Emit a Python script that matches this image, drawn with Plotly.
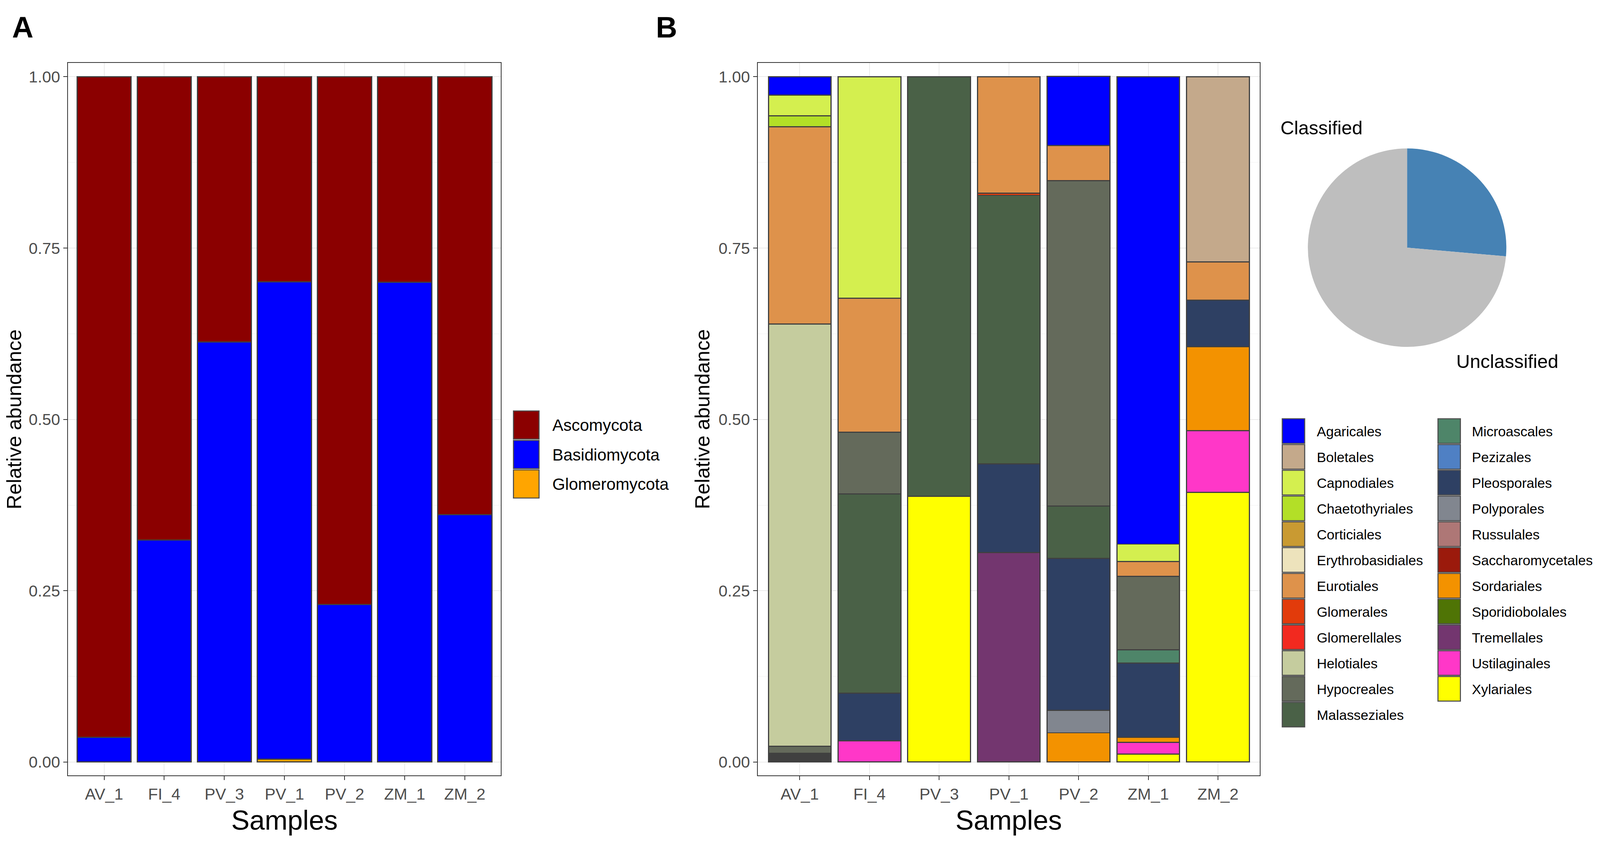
import plotly.graph_objects as go

# Reference picture size; the page is laid out in fractions of it and fills the window
W, H = 4562, 2153
S = 1.113            # picture px per CSS px (observed)
VW, VH = 4099, 2169  # approx. CSS viewport
BODY = 8             # default body margin (CSS px)
FONT = "Liberation Sans, Arial, Helvetica, sans-serif"

# ---------------- data ----------------
samples = ["AV_1", "FI_4", "PV_3", "PV_1", "PV_2", "ZM_1", "ZM_2"]

# Panel A: phylum level relative abundance
phyla = ["Ascomycota", "Basidiomycota", "Glomeromycota"]
phylum_colors = ["#8B0000", "#0000FF", "#FFA500"]
ascomycota = [0.964, 0.676, 0.387, 0.299, 0.770, 0.300, 0.639]
basidiomycota = [0.036, 0.324, 0.613, 0.697, 0.230, 0.700, 0.361]
glomeromycota = [0.0, 0.0, 0.0, 0.004, 0.0, 0.0, 0.0]

# Panel B: order level relative abundance
orders = ["Agaricales", "Boletales", "Capnodiales", "Chaetothyriales", "Corticiales",
          "Erythrobasidiales", "Eurotiales", "Glomerales", "Glomerellales", "Helotiales",
          "Hypocreales", "Malasseziales", "Microascales", "Pezizales", "Pleosporales",
          "Polyporales", "Russulales", "Saccharomycetales", "Sordariales",
          "Sporidiobolales", "Tremellales", "Ustilaginales", "Xylariales"]
order_colors = ["#0000FF", "#C4A98B", "#D4EF4F", "#B3DF27", "#C99A32",
                "#EDE3BC", "#DE924B", "#E23B0B", "#F2291F", "#C5CC9E",
                "#646A5B", "#4A6147", "#4E8569", "#4F80C4", "#2E4063",
                "#81868F", "#AE7776", "#9B1A0C", "#F39200",
                "#4F7405", "#73366F", "#FF37C8", "#FFFF00"]

agaricales        = [0.027, 0.0, 0.0, 0.0, 0.101, 0.682, 0.0]
boletales         = [0.0, 0.0, 0.0, 0.0, 0.0, 0.0, 0.270]
capnodiales       = [0.030, 0.323, 0.0, 0.0, 0.0, 0.0255, 0.0]
chaetothyriales   = [0.016, 0.0, 0.0, 0.0, 0.0, 0.0, 0.0]
corticiales       = [0.0, 0.0, 0.0, 0.0, 0.0, 0.0, 0.0]
erythrobasidiales = [0.0, 0.0, 0.0, 0.0, 0.0, 0.0, 0.0]
eurotiales        = [0.288, 0.1955, 0.0, 0.170, 0.051, 0.0215, 0.056]
glomerales        = [0.0, 0.0, 0.0, 0.003, 0.0, 0.0, 0.0]
glomerellales     = [0.0, 0.0, 0.0, 0.0, 0.0, 0.0, 0.0]
helotiales        = [0.616, 0.0, 0.0, 0.0, 0.0, 0.0, 0.0]
hypocreales       = [0.010, 0.090, 0.0, 0.0, 0.475, 0.107, 0.0]
malasseziales     = [0.0, 0.2905, 0.612, 0.392, 0.0766, 0.0, 0.0]
microascales      = [0.0, 0.0, 0.0, 0.0, 0.0, 0.0194, 0.0]
pezizales         = [0.0, 0.0, 0.0, 0.0, 0.0, 0.0, 0.0]
pleosporales      = [0.0, 0.0698, 0.0, 0.129, 0.2215, 0.1087, 0.068]
polyporales       = [0.0, 0.0, 0.0, 0.0, 0.0328, 0.0, 0.0]
russulales        = [0.0, 0.0, 0.0, 0.0, 0.0, 0.0, 0.0]
saccharomycetales = [0.0, 0.0, 0.0, 0.0, 0.0, 0.0, 0.0]
sordariales       = [0.0, 0.0, 0.0, 0.0, 0.0427, 0.0069, 0.1221]
sporidiobolales   = [0.0, 0.0, 0.0, 0.0, 0.0, 0.0, 0.0]
tremellales       = [0.0, 0.0, 0.0, 0.306, 0.0, 0.0, 0.0]
ustilaginales     = [0.0, 0.031, 0.0, 0.0, 0.0, 0.0176, 0.0905]
xylariales        = [0.0, 0.0, 0.388, 0.0, 0.0, 0.0114, 0.3933]
unassigned        = [0.013, 0.0, 0.0, 0.0, 0.0, 0.0, 0.0]
unassigned_color = "#404040"

order_values = [agaricales, boletales, capnodiales, chaetothyriales, corticiales,
                erythrobasidiales, eurotiales, glomerales, glomerellales, helotiales,
                hypocreales, malasseziales, microascales, pezizales, pleosporales,
                polyporales, russulales, saccharomycetales, sordariales,
                sporidiobolales, tremellales, ustilaginales, xylariales]

# Pie: share of classified reads
pie_labels = ["Classified", "Unclassified"]
pie_values = [0.264, 0.736]
pie_colors = ["#4682B4", "#BEBEBE"]

y_ticks = [0.0, 0.25, 0.5, 0.75, 1.0]

# ---------------- helpers (layout only) ----------------
def fx(px):
    return (px / W * VW - BODY) / (VW - 2 * BODY)

def fy(py):
    return 1 - (py / H * VH - BODY) / (VH - 2 * BODY)

def sz(v):
    return v / S

OUTLINE = "#404040"
BAR_LINE = sz(3.3)

fig = go.Figure()

# Panel A (stack: first trace at bottom, so reverse legend order)
for name, vals, col in reversed(list(zip(phyla, [ascomycota, basidiomycota, glomeromycota], phylum_colors))):
    fig.add_trace(go.Bar(x=samples, y=vals, name=name, marker=dict(color=col, line=dict(color=OUTLINE, width=BAR_LINE)),
                         width=0.9, showlegend=False, xaxis="x", yaxis="y"))

# Panel B
fig.add_trace(go.Bar(x=samples, y=unassigned, name="NA", marker=dict(color=unassigned_color, line=dict(color=OUTLINE, width=BAR_LINE)),
                     width=0.9, showlegend=False, xaxis="x2", yaxis="y2"))
for name, vals, col in reversed(list(zip(orders, order_values, order_colors))):
    fig.add_trace(go.Bar(x=samples, y=vals, name=name, marker=dict(color=col, line=dict(color=OUTLINE, width=BAR_LINE)),
                         width=0.9, showlegend=False, xaxis="x2", yaxis="y2"))

# Pie
cx, cy, r = 4012, 634, 283
fig.add_trace(go.Pie(labels=pie_labels, values=pie_values, marker=dict(colors=pie_colors),
                     sort=False, direction="counterclockwise", rotation=0, textinfo="none",
                     showlegend=False, domain=dict(x=[fx(cx - r), fx(cx + r)], y=[fy(cy + r), fy(cy - r)])))

plot_top, plot_bot = 161, 1985
yrange = [-0.0194, 1.0202]
TICKFONT = dict(family=FONT, size=sz(46), color="#4D4D4D")

def xaxis_style(x0, x1, anchor):
    return dict(domain=[fx(x0), fx(x1)], anchor=anchor, type="category", categoryorder="array",
                categoryarray=samples, range=[-0.6, 6.6], showgrid=True, gridcolor="#EBEBEB", gridwidth=sz(2.5),
                showline=True, mirror=True, linecolor="#333333", linewidth=sz(2.5),
                ticks="outside", ticklen=sz(11), tickwidth=sz(2.5), tickcolor="#333333",
                tickfont=TICKFONT, zeroline=False, fixedrange=True)

def yaxis_style(anchor):
    return dict(domain=[fy(plot_bot), fy(plot_top)], anchor=anchor, range=yrange,
                tickmode="array", tickvals=y_ticks, ticktext=[f"{v:.2f}" for v in y_ticks],
                showgrid=True, gridcolor="#EBEBEB", gridwidth=sz(2.5),
                minor=dict(tickmode="linear", tick0=0.125, dtick=0.25, showgrid=True, gridcolor="#F2F2F2",
                           gridwidth=sz(1.3), ticks=""),
                showline=True, mirror=True, linecolor="#333333", linewidth=sz(2.5),
                ticks="outside", ticklen=sz(11), tickwidth=sz(2.5), tickcolor="#333333",
                tickfont=TICKFONT, zeroline=False, fixedrange=True)

annotations = []
shapes = []

def text(px, py, s, size, color="black", bold=False, xanchor="center", angle=0):
    annotations.append(dict(x=fx(px), y=fy(py), xref="paper", yref="paper", text=(f"<b>{s}</b>" if bold else s),
                            showarrow=False, xanchor=xanchor, yanchor="middle", textangle=angle,
                            font=dict(family=FONT, size=sz(size), color=color)))

# Panel letters
text(32, 70, "A", 84, bold=True, xanchor="left")
text(1868, 70, "B", 84, bold=True, xanchor="left")

# Axis titles
text((194 + 1428) / 2, 2100, "Samples", 78)
text((2161 + 3592) / 2, 2100, "Samples", 78)
text(40, (plot_top + plot_bot) / 2, "Relative abundance", 58, angle=-90)
text(2003, (plot_top + plot_bot) / 2, "Relative abundance", 58, angle=-90)

# Pie labels
text(3768, 327, pie_labels[0], 54)
text(4297, 925, pie_labels[1], 54)

# Legend A
for i, (name, col) in enumerate(zip(phyla, phylum_colors)):
    top = 1052 + i * 75.5
    shapes.append(dict(type="rect", xref="paper", yref="paper", x0=fx(1464), x1=fx(1537), y0=fy(top + 72), y1=fy(top),
                       fillcolor=col, line=dict(color="#4D4D4D", width=sz(3))))
    text(1573, top + 37, name, 47, xanchor="left")

# Legend B (two columns)
for i, (name, col) in enumerate(zip(orders, order_colors)):
    c, rr = divmod(i, 12)
    kx = 3656 if c == 0 else 4100
    tx = 3752 if c == 0 else 4194
    top = 1072 + rr * 66
    shapes.append(dict(type="rect", xref="paper", yref="paper", x0=fx(kx), x1=fx(kx + 64), y0=fy(top + 63), y1=fy(top),
                       fillcolor=col, line=dict(color="#4D4D4D", width=sz(3))))
    text(tx, top + 33, name, 39.5, xanchor="left")

fig.update_layout(
    autosize=True, margin=dict(l=0, r=0, t=0, b=0),
    paper_bgcolor="white", plot_bgcolor="white", barmode="stack", bargap=0.1,
    font=dict(family=FONT),
    xaxis=xaxis_style(194, 1428, "y"), yaxis=yaxis_style("x"),
    xaxis2=xaxis_style(2161, 3592, "y2"), yaxis2=yaxis_style("x2"),
    annotations=annotations, shapes=shapes, showlegend=False,
)

fig.write_html("out.html", config={"responsive": True}, default_width="100%", default_height="100%")
